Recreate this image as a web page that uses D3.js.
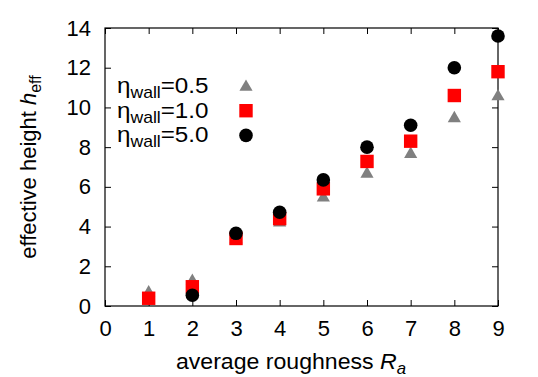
<!DOCTYPE html>
<html>
<head>
<meta charset="utf-8">
<script src="https://cdn.jsdelivr.net/npm/d3@7"></script>
<style>
  body { margin: 0; background: #fff; }
  svg text { font-family: "Liberation Sans", Arial, sans-serif; fill: #000; }
</style>
</head>
<body>
<div id="chart"></div>
<script>
// roughness values on x
var roughness = [1, 2, 3, 4, 5, 6, 7, 8, 9];
// effective height for each wall viscosity
var hWall05 = [0.72, 1.3, 3.4, 4.25, 5.5, 6.7, 7.7, 9.5, 10.6];
var hWall10 = [0.39, 0.97, 3.4, 4.4, 5.9, 7.28, 8.3, 10.6, 11.8];
var hWall50 = [null, 0.54, 3.66, 4.72, 6.35, 8.0, 9.1, 12.0, 13.6];
var xTicks = [0, 1, 2, 3, 4, 5, 6, 7, 8, 9];
var yTicks = [0, 2, 4, 6, 8, 10, 12, 14];
var legendLabels = ["0.5", "1.0", "5.0"];

var width = 538, height = 377;
var margin = { top: 28, right: 40, bottom: 71, left: 105 };
var w = width - margin.left - margin.right,
    h = height - margin.top - margin.bottom;
var fs = 22, fsSub = 16;

var svg = d3.select("#chart").append("svg")
  .attr("width", width)
  .attr("height", height);

var g = svg.append("g")
  .attr("transform", "translate(" + margin.left + "," + margin.top + ")");

var x = d3.scaleLinear().domain([0, 9]).range([0, w]);
var y = d3.scaleLinear().domain([0, 14]).range([h, 0]);

// frame
g.append("rect")
  .attr("width", w).attr("height", h)
  .attr("fill", "none").attr("stroke", "#000").attr("stroke-width", 1.2);

// axes with inward ticks (mirrored on top/right)
function styleAxis(sel) {
  sel.select(".domain").remove();
  sel.selectAll("line").attr("stroke", "#000").attr("stroke-width", 1);
  sel.selectAll("text").style("font-size", fs + "px");
}

g.append("g")
  .attr("transform", "translate(0," + h + ")")
  .call(d3.axisBottom(x).tickValues(xTicks).tickSizeInner(-6).tickSizeOuter(0).tickPadding(14))
  .call(styleAxis);
g.append("g")
  .call(d3.axisTop(x).tickValues(xTicks).tickSizeInner(-6).tickSizeOuter(0).tickFormat(""))
  .call(styleAxis);
g.append("g")
  .call(d3.axisLeft(y).tickValues(yTicks).tickSizeInner(-6).tickSizeOuter(0).tickPadding(14))
  .call(styleAxis);
g.append("g")
  .attr("transform", "translate(" + w + ",0)")
  .call(d3.axisRight(y).tickValues(yTicks).tickSizeInner(-6).tickSizeOuter(0).tickFormat(""))
  .call(styleAxis);

// markers
var tri = d3.symbol().type(d3.symbolTriangle).size(75);
var sq = d3.symbol().type(d3.symbolSquare).size(180);
var circ = d3.symbol().type(d3.symbolCircle).size(145);

function series(vals, sym, color, dy) {
  var pts = roughness.map(function(r, i) { return { x: r, y: vals[i] }; })
    .filter(function(d) { return d.y != null; });
  g.selectAll(null).data(pts).enter().append("path")
    .attr("d", sym)
    .attr("fill", color)
    .attr("transform", function(d) {
      return "translate(" + x(d.x) + "," + (y(d.y) + dy) + ")";
    });
}
series(hWall05, tri, "#808080", 1);
series(hWall10, sq, "#ff0000", 0);
series(hWall50, circ, "#000000", 0);

// legend (text a bit wider, like the original)
var legendSyms = [[tri, "#808080", 1], [sq, "#ff0000", 0], [circ, "#000000", 0]];
legendLabels.forEach(function(lab, i) {
  var ly = 86 + i * 24.7;
  var t = svg.append("text")
    .attr("transform", "translate(117," + (ly + 7) + ") scale(1.1,1)")
    .style("font-size", fs + "px");
  t.append("tspan").text("\u03b7");
  t.append("tspan").attr("dy", 5).style("font-size", fsSub + "px").text("wall");
  t.append("tspan").attr("dy", -5).text("=" + lab);
  svg.append("path")
    .attr("d", legendSyms[i][0])
    .attr("fill", legendSyms[i][1])
    .attr("transform", "translate(246," + (ly + legendSyms[i][2]) + ")");
});

// axis titles
var xt = svg.append("text")
  .attr("transform", "translate(291,369) scale(1.05,1)")
  .attr("text-anchor", "middle")
  .style("font-size", fs + "px");
xt.append("tspan").text("average roughness ");
xt.append("tspan").style("font-style", "italic").text("R");
xt.append("tspan").attr("dy", 5).style("font-size", fsSub + "px").style("font-style", "italic").text("a");

var yt = svg.append("text")
  .attr("transform", "translate(36," + (margin.top + h / 2) + ") rotate(-90)")
  .attr("text-anchor", "middle")
  .style("font-size", fs + "px");
yt.append("tspan").text("effective height ");
yt.append("tspan").style("font-style", "italic").text("h");
yt.append("tspan").attr("dy", 5).style("font-size", fsSub + "px").text("eff");
</script>
</body>
</html>
